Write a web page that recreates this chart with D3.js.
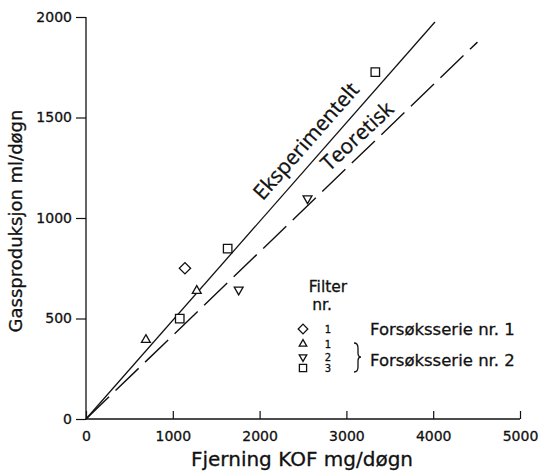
<!DOCTYPE html>
<html><head><meta charset="utf-8">
<script src="https://cdn.jsdelivr.net/npm/d3@7"></script>
<style>body{margin:0;background:#fff}svg{display:block}</style>
</head><body>
<svg id="c" width="543" height="475"></svg>
<script>
// ---- data ----
const xTicks = [0, 1000, 2000, 3000, 4000, 5000];
const yTicks = [0, 500, 1000, 1500, 2000];
const diamondPts = [[1140, 750]];                       // Forsøksserie 1, filter 1
const triUpPts = [[690, 394], [1276, 638]];            // Forsøksserie 2, filter 1
const triDownPts = [[1759, 643], [2552, 1097]];        // Forsøksserie 2, filter 2
const squarePts = [[1080, 499], [1632, 848], [3333, 1726]]; // Forsøksserie 2, filter 3
const expLine = [[0, 0], [4020, 1975]];
const teoLine = [[0, 0], [4510, 1875]];
const legendFilters = ["1", "1", "2", "3"];
const legendShapes = ["diamond", "up", "down", "square"];

// ---- layout ----
const svg = d3.select("#c");
const x = d3.scaleLinear().domain([0, 5000]).range([86, 520]);
const y = d3.scaleLinear().domain([0, 2000]).range([419, 17]);
const font = "'DejaVu Sans', sans-serif";
const ink = "#111";
function txt(sel, size) {
  return sel.style("font-family", font).style("font-size", size + "px")
    .attr("fill", ink).attr("stroke", ink).attr("stroke-width", 0.3);
}

// axes
const xAxis = svg.append("g").attr("transform", `translate(0,${y(0)})`)
  .call(d3.axisBottom(x).tickValues(xTicks).tickSize(-8).tickPadding(12).tickFormat(d3.format("d")));
const yAxis = svg.append("g").attr("transform", `translate(${x(0)},0)`)
  .call(d3.axisLeft(y).tickValues(yTicks).tickSize(10).tickPadding(4).tickFormat(d3.format("d")));
[xAxis, yAxis].forEach(g => {
  g.select(".domain").attr("stroke", ink).attr("stroke-width", 1.3);
  g.selectAll(".tick line").attr("stroke", ink).attr("stroke-width", 1.2);
  txt(g.selectAll(".tick text"), 14);
});
xAxis.select(".domain").attr("d", `M${x(0)},0H${x(5000)}`);
yAxis.select(".domain").attr("d", `M0,${y(0)}V${y(2000)}`);

// axis titles
txt(svg.append("text").attr("x", 302).attr("y", 466).attr("text-anchor", "middle"), 20)
  .text("Fjerning KOF mg/døgn");
txt(svg.append("text").attr("transform", "translate(22,221) rotate(-90)").attr("text-anchor", "middle"), 18)
  .text("Gassproduksjon ml/døgn");

// lines
const line = d3.line().x(d => x(d[0])).y(d => y(d[1]));
svg.append("path").datum(expLine).attr("d", line).attr("fill", "none")
  .attr("stroke", ink).attr("stroke-width", 1.3);
svg.append("path").datum(teoLine).attr("d", line).attr("fill", "none")
  .attr("stroke", ink).attr("stroke-width", 1.4).attr("stroke-dasharray", "32,9");

// line labels
const lblFont = "'Open Sans', 'DejaVu Sans', sans-serif";
function angleOf(l) {
  return Math.atan2(y(l[1][1]) - y(l[0][1]), x(l[1][0]) - x(l[0][0])) * 180 / Math.PI;
}
svg.append("text").attr("transform", `translate(306,141) rotate(${angleOf(expLine)})`)
  .attr("text-anchor", "middle").attr("dy", "0.35em")
  .style("font-family", lblFont).style("font-size", "21px").attr("fill", ink)
  .attr("stroke", ink).attr("stroke-width", 0.3).text("Eksperimentelt");
svg.append("text").attr("transform", `translate(357,136) rotate(${angleOf(teoLine) + 1})`)
  .attr("text-anchor", "middle").attr("dy", "0.35em")
  .style("font-family", lblFont).style("font-size", "21px").attr("fill", ink)
  .attr("stroke", ink).attr("stroke-width", 0.3).text("Teoretisk");

// markers
const sym = {
  diamond: d3.symbol().type(d3.symbolSquare).size(64)(),
  up: d3.symbol().type(d3.symbolTriangle).size(34)(),
  down: d3.symbol().type(d3.symbolTriangle).size(34)(),
  square: d3.symbol().type(d3.symbolSquare).size(72)()
};
const rot = {diamond: 45, up: 0, down: 180, square: 0};
function drawPts(data, shape, k) {
  svg.append("g").selectAll("path").data(data).join("path")
    .attr("d", sym[shape])
    .attr("transform", d => `translate(${x(d[0])},${y(d[1])}) rotate(${rot[shape]}) scale(${k})`)
    .attr("fill", "#fff").attr("stroke", ink).attr("stroke-width", 1.3 / k);
}
drawPts(diamondPts, "diamond", 1);
drawPts(triUpPts, "up", 1);
drawPts(triDownPts, "down", 1);
drawPts(squarePts, "square", 1);

// legend
const lg = svg.append("g");
txt(lg.append("text").attr("x", 328).attr("y", 292).attr("text-anchor", "middle"), 15.5).text("Filter");
txt(lg.append("text").attr("x", 322).attr("y", 310).attr("text-anchor", "middle"), 15.5).text("nr.");
const legY = [329, 344, 357, 368];
legendShapes.forEach((s, i) => {
  lg.append("path").attr("d", sym[s])
    .attr("transform", `translate(303,${legY[i]}) rotate(${rot[s]}) scale(0.85)`)
    .attr("fill", "#fff").attr("stroke", ink).attr("stroke-width", 1.3 / 0.85);
  txt(lg.append("text").attr("x", 328).attr("y", legY[i]).attr("dy", "0.35em").attr("text-anchor", "middle"), 10)
    .text(legendFilters[i]);
});
txt(lg.append("text").attr("x", 370).attr("y", 329).attr("dy", "0.35em"), 16.5).text("Forsøksserie nr. 1");
txt(lg.append("text").attr("x", 370).attr("y", 360).attr("dy", "0.35em"), 16.5).text("Forsøksserie nr. 2");
// brace
lg.append("path")
  .attr("d", "M354,343 Q358,343 358,348 L358,353 Q358,357 361,357 Q358,357 358,361 L358,367 Q358,372 354,372")
  .attr("fill", "none").attr("stroke", ink).attr("stroke-width", 1.3);
</script>
</body></html>
